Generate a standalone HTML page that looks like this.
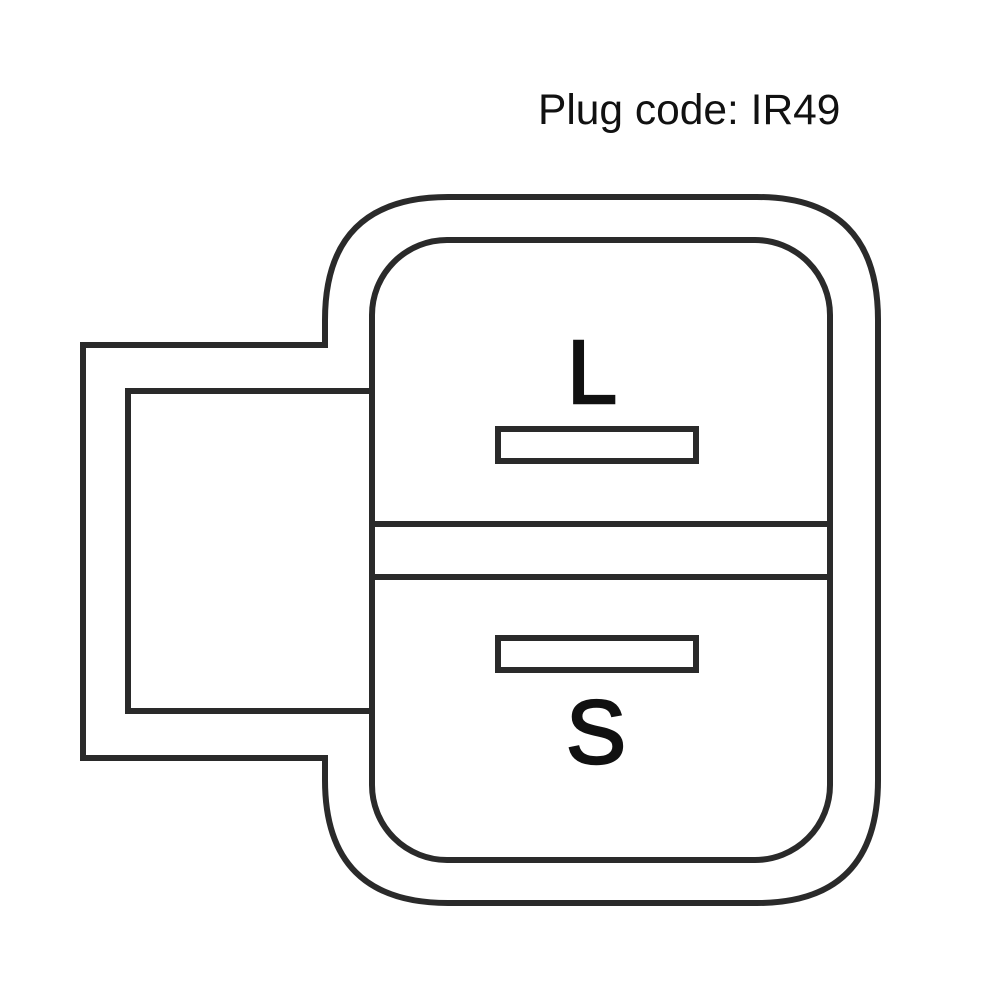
<!DOCTYPE html>
<html><head><style>html,body{margin:0;padding:0;background:#fff;width:1000px;height:1000px;overflow:hidden}</style></head>
<body>
<svg width="1000" height="1000" viewBox="0 0 1000 1000" xmlns="http://www.w3.org/2000/svg">
<g fill="none" stroke="#2a2a2a" stroke-width="6">
<path d="M325,345 L83,345 L83,758 L325,758 L325,780 Q325,903 448,903 L757,903 Q878,903 878,780 L878,320 Q878,197 757,197 L448,197 Q325,197 325,320 Z"/>
<rect x="372" y="240" width="458" height="620" rx="75" ry="75"/>
<path d="M372,391 L128,391 L128,711 L372,711"/>
<line x1="372" y1="524" x2="830" y2="524"/>
<line x1="372" y1="577" x2="830" y2="577"/>
<rect x="498" y="429" width="198" height="32"/>
<rect x="498" y="638" width="198" height="32"/>
</g>
<g font-family="Liberation Sans, sans-serif" fill="#111">
<text x="538" y="124" font-size="42.5">Plug code: IR49</text>
<text x="567" y="403" font-size="90" stroke="#111" stroke-width="2.5">L</text>
<text x="566" y="763" font-size="90" stroke="#111" stroke-width="2.5">S</text>
</g>
</svg>
</body></html>
